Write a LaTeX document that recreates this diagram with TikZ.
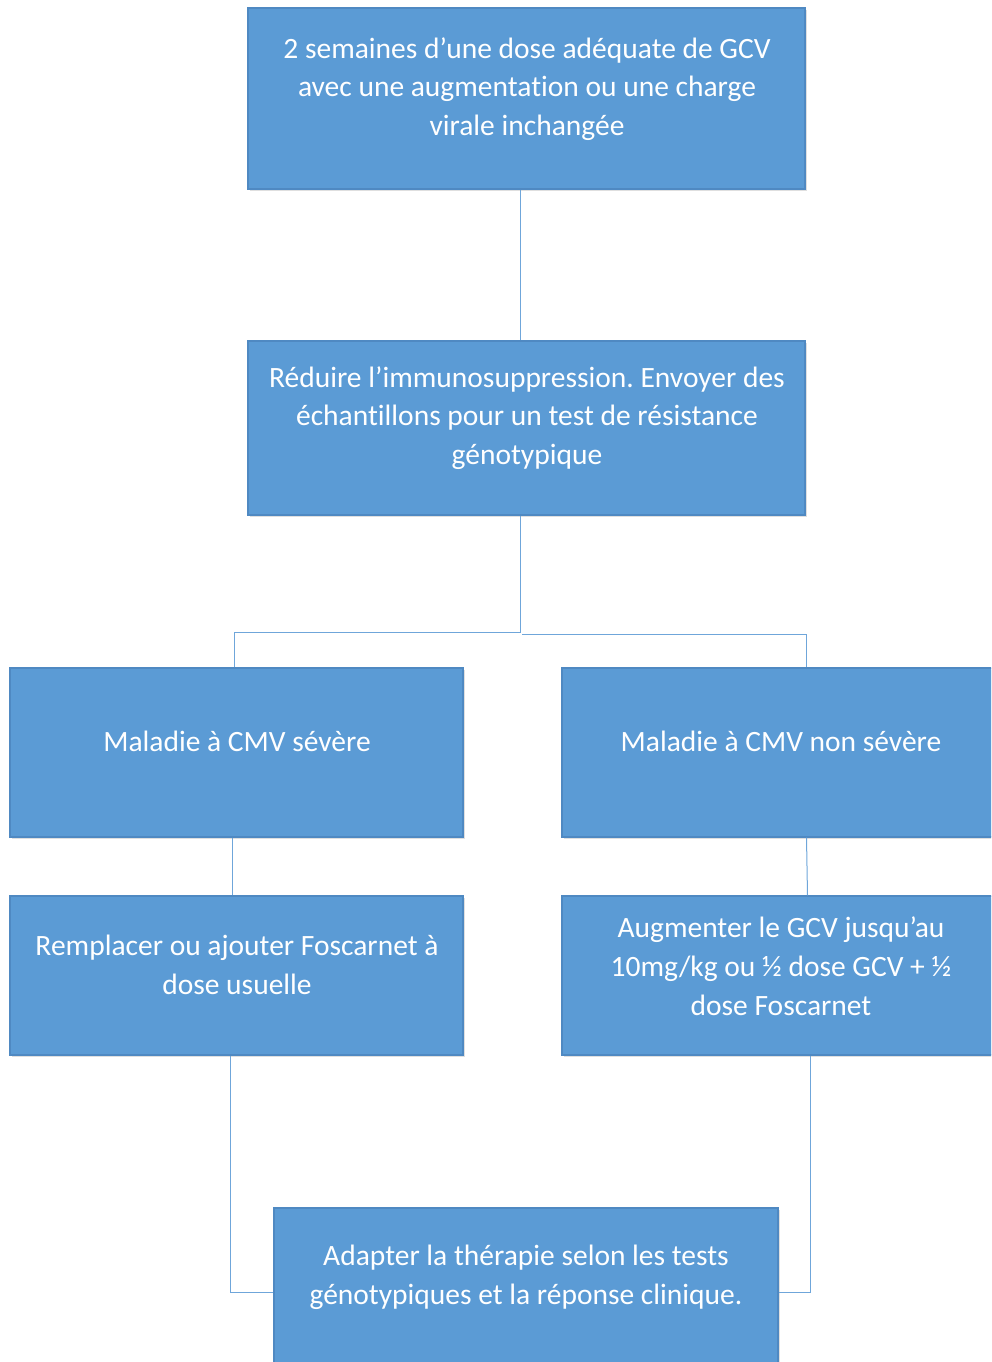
\documentclass[tikz,border=0pt]{standalone}
\usepackage{fontspec}
\setmainfont[Ligatures=NoCommon]{Carlito}
\usetikzlibrary{shadows}
\definecolor{boxfill}{HTML}{5B9BD5}
\definecolor{boxedge}{HTML}{4F89C2}
\definecolor{linkblue}{HTML}{6FA6DA}
\frenchspacing
\begin{document}
\begin{tikzpicture}[x=1pt,y=-1pt,
  box/.style={draw=boxedge, line width=1.2pt, fill=boxfill, inner sep=0pt,
    drop shadow={shadow xshift=1.5pt, shadow yshift=-2pt, opacity=0.25}},
  txt/.style={text=white, align=center, inner sep=0pt, font=\frenchspacing\fontsize{29.5}{38.8}\selectfont},
  link/.style={draw=linkblue, line width=1pt}]
\path[use as bounding box] (0,0) rectangle (991,1362);
\clip (0,0) rectangle (991,1362);
% boxes
\node[box, minimum width=557, minimum height=181] (b1) at (526.5,98.5) {};
\node[box, minimum width=557, minimum height=174] (b2) at (526.5,428) {};
\node[box, minimum width=453, minimum height=169] (b3) at (236.5,752.5) {};
\node[box, minimum width=438, minimum height=169] (b4) at (781,752.5) {};
\node[box, minimum width=453, minimum height=159] (b5) at (236.5,975.5) {};
\node[box, minimum width=438, minimum height=159] (b6) at (781,975.5) {};
\node[box, minimum width=504, minimum height=162] (b7) at (526,1289) {};
% texts
\node[txt] (t1) at (527,89) {2 semaines d’une dose adéquate de GCV\\avec une augmentation ou une charge\\virale inchangée};
\node[txt] (t2) at (527,418) {Réduire l’immunosuppression. Envoyer des\\échantillons pour un test de résistance\\génotypique};
\node[txt] (t3) at (237,741) {Maladie à CMV sévère};
\node[txt] (t4) at (781,741) {Maladie à CMV non sévère};
\node[txt] (t5) at (237,965) {Remplacer ou ajouter Foscarnet à\\dose usuelle};
\node[txt] (t6) at (781,966) {Augmenter le GCV jusqu’au\\10mg/kg ou ½ dose GCV + ½\\dose Foscarnet};
\node[txt] (t7) at (526,1277) {Adapter la thérapie selon les tests\\génotypiques et la réponse clinique.};
% connectors
\coordinate (j) at (522,634);
\draw[link] ([xshift=-6.5]b1.south) -- ([xshift=-6.5]b2.north);
\draw[link] ([xshift=-6.5]b2.south) -- ++(0,117) -| ([xshift=-2.5]b3.north);
\draw[link] (j) -| ([xshift=25]b4.north);
\draw[link] ([xshift=-4.5]b3.south) -- ([xshift=-4.5]b5.north);
\draw[link] ([xshift=25.5]b4.south) -- ([xshift=26.5]b6.north);
\draw[link] ([xshift=-6.5]b5.south) |- ([yshift=-3]b7.west);
\draw[link] ([xshift=29]b6.south) |- ([yshift=-3]b7.east);
\end{tikzpicture}
\end{document}
